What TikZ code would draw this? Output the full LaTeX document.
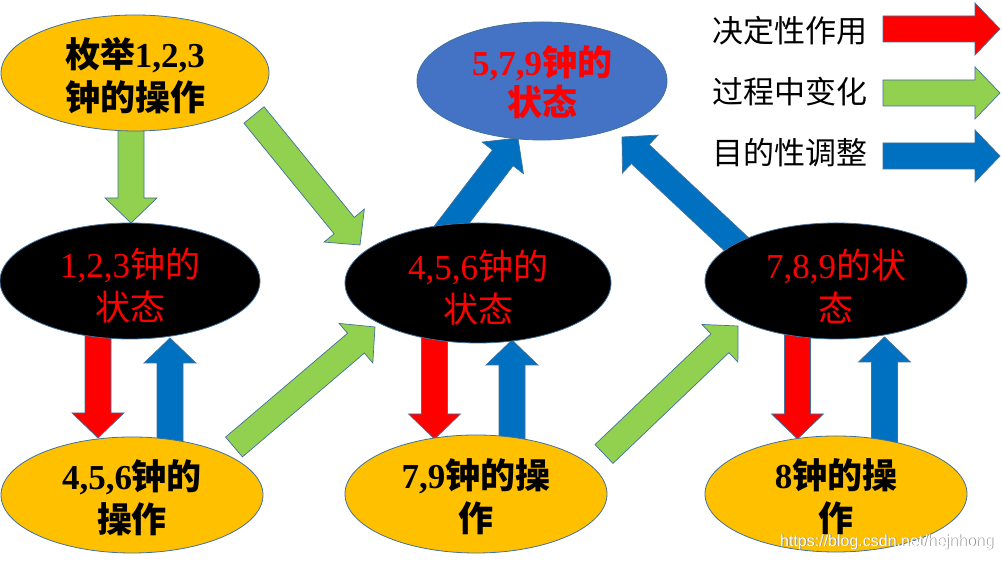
\documentclass[tikz,border=0pt]{standalone}
\usepackage{fontspec}
\setmainfont{Liberation Serif}
\newfontfamily\cjk{Noto Sans CJK SC}
\newfontfamily\wmfont{Liberation Sans}
\usetikzlibrary{shapes.geometric,calc,backgrounds}
\definecolor{edgec}{HTML}{41719C}
\definecolor{yel}{HTML}{FFC000}
\definecolor{bluenode}{HTML}{4472C4}
\definecolor{arrred}{HTML}{FF0000}
\definecolor{arrgreen}{HTML}{92D050}
\definecolor{arrblue}{HTML}{0070C0}
\newcommand\zh[1]{{\cjk #1}}
\newcommand\blockarrow[3]{%
  \path[arrowbox,fill=#3]
    let \p1=(#1), \p2=(#2),
        \n1={atan2(\y2-\y1,\x2-\x1)},
        \n2={veclen(\x2-\x1,\y2-\y1)} in
    [shift={(\p1)},rotate=\n1]
    (0,-13) -- ({\n2-25},-13) -- ({\n2-25},-26) -- (\n2,0) --
    ({\n2-25},26) -- ({\n2-25},13) -- (0,13) -- cycle;}
\tikzset{
  ell/.style={ellipse, draw=edgec, line width=0.8pt, inner sep=0pt},
  arrowbox/.style={draw=edgec, line width=0.7pt},
  optext/.style={align=center, inner sep=0pt, text=black,
    font=\fontsize{35}{43}\selectfont\bfseries},
  sttext/.style={align=center, inner sep=0pt, text=arrred,
    font=\fontsize{35}{43}\selectfont},
  legtext/.style={anchor=west, inner sep=0pt,
    font=\cjk\fontsize{31}{36}\selectfont},
  wmtext/.style={anchor=west, inner sep=0pt,
    font=\wmfont\fontsize{16}{16}\selectfont},
}
\begin{document}
\begin{tikzpicture}[x=1pt,y=1pt]
\useasboundingbox (0,0) rectangle (1002,561);

% ---------- ellipses ----------
\node[ell, fill=yel, minimum width=268, minimum height=116] (op123) at (135,488) {};
\node[ell, fill=bluenode, minimum width=250, minimum height=118] (st579) at (542,480) {};
\node[ell, fill=black, minimum width=260, minimum height=116] (st123) at (130,280) {};
\node[ell, fill=black, minimum width=266, minimum height=120] (st456) at (478,278) {};
\node[ell, fill=black, minimum width=262, minimum height=116] (st789) at (836,280) {};
\node[ell, fill=yel, minimum width=262, minimum height=116] (op456) at (132,66) {};
\node[ell, fill=yel, minimum width=262, minimum height=118] (op79) at (476,67) {};
\node[ell, fill=yel, minimum width=262, minimum height=116] (op8) at (836,67) {};

% ---------- texts ----------
\node[optext] (op123t) at ($(op123)+(0,-3)$) {\zh{枚举}1,2,3\\\zh{钟的操作}};
\node[sttext, font=\fontsize{35}{40}\selectfont\bfseries] (st579t) at ($(st579)+(0,-1)$) {5,7,9\zh{钟的}\\\zh{状态}};
\node[sttext] (st123t) at ($(st123)+(0,-5)$) {1,2,3\zh{钟的}\\\zh{状态}};
\node[sttext] (st456t) at ($(st456)+(0,-5)$) {4,5,6\zh{钟的}\\\zh{状态}};
\node[sttext] (st789t) at ($(st789)+(0,-5)$) {7,8,9\zh{的状}\\\zh{态}};
\node[optext] (op456t) at ($(op456)+(0,-3)$) {4,5,6\zh{钟的}\\\zh{操作}};
\node[optext] (op79t) at ($(op79)+(0,-3)$) {7,9\zh{钟的操}\\\zh{作}};
\node[optext] (op8t) at ($(op8)+(0,-3)$) {8\zh{钟的操}\\\zh{作}};

% ---------- legend ----------
\node[legtext] (l1) at (712,530) {决定性作用};
\node[legtext] (l2) at (712,469) {过程中变化};
\node[legtext] (l3) at (712,408) {目的性调整};
\coordinate (lrs) at (883,532); \coordinate (lre) at (1000,532);
\coordinate (lgs) at (883,468); \coordinate (lge) at (1000,468);
\coordinate (lbs) at (883,405); \coordinate (lbe) at (1000,405);
\blockarrow{lrs}{lre}{arrred}
\blockarrow{lgs}{lge}{arrgreen}
\blockarrow{lbs}{lbe}{arrblue}

% ---------- arrow end points ----------
\coordinate (g1s) at (131,432); \coordinate (g1e) at (131,338);
\coordinate (r1s) at (98,228);  \coordinate (r1e) at (98,123);
\coordinate (r2s) at (434.5,226); \coordinate (r2e) at (434.5,122);
\coordinate (r3s) at (797.5,228); \coordinate (r3e) at (797.5,122);
\coordinate (b1s) at (170,118); \coordinate (b1e) at (170,223);
\coordinate (b2s) at (512,119); \coordinate (b2e) at (512,221);
\coordinate (b3s) at (884.5,118); \coordinate (b3e) at (884.5,224);
\coordinate (gAs) at (254,446); \coordinate (gAe) at (360,316);
\coordinate (gBs) at (234,114); \coordinate (gBe) at (375,234);
\coordinate (gCs) at (604,107); \coordinate (gCe) at (738,235);
\coordinate (bDs) at (440,321); \coordinate (bDe) at (518,423);
\coordinate (bEs) at (748,306); \coordinate (bEe) at (622,424);

\begin{scope}[on background layer]
\fill[white] (0,0) rectangle (1002,561);
\blockarrow{g1s}{g1e}{arrgreen}
\blockarrow{r1s}{r1e}{arrred}
\blockarrow{r2s}{r2e}{arrred}
\blockarrow{r3s}{r3e}{arrred}
\blockarrow{b1s}{b1e}{arrblue}
\blockarrow{b2s}{b2e}{arrblue}
\blockarrow{b3s}{b3e}{arrblue}
\blockarrow{gAs}{gAe}{arrgreen}
\blockarrow{gBs}{gBe}{arrgreen}
\blockarrow{gCs}{gCe}{arrgreen}
\blockarrow{bDs}{bDe}{arrblue}
\blockarrow{bEs}{bEe}{arrblue}
\end{scope}

% ---------- watermark ----------
\node[wmtext, text=black!45] (wmsh) at (780.8,18.2) {https://blog.csdn.net/hejnhong};
\node[wmtext, text=white] (wm) at (780,19) {https://blog.csdn.net/hejnhong};
\end{tikzpicture}
\end{document}
